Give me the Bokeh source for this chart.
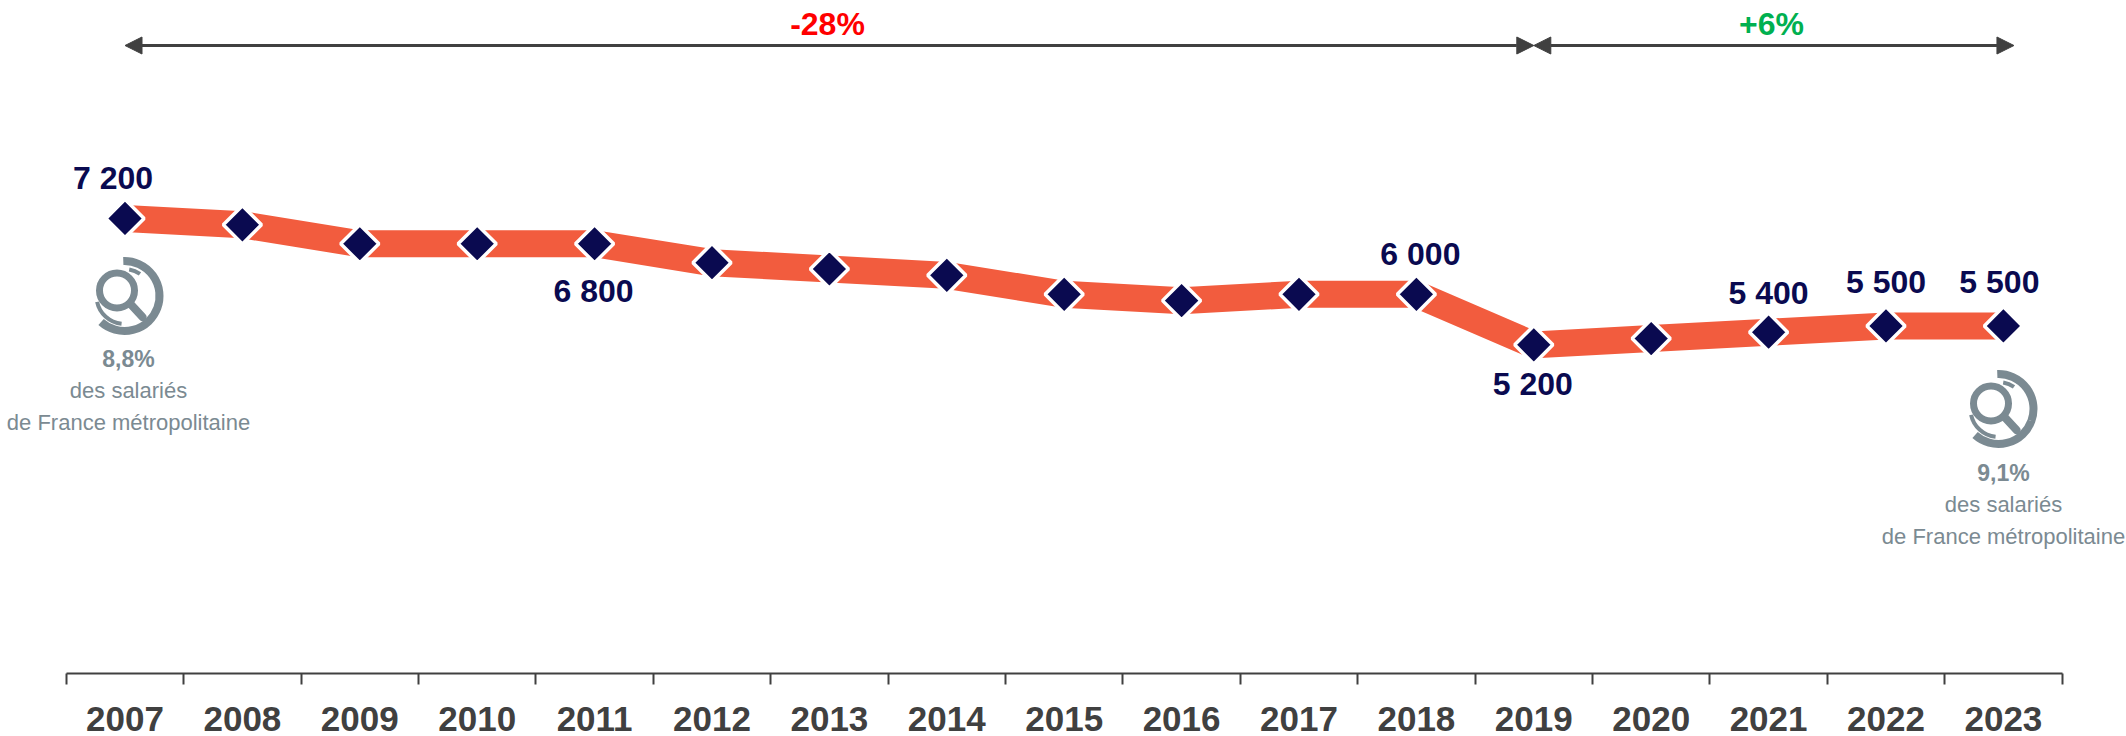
import math
from bokeh.plotting import figure
from bokeh.models import Range1d, FixedTicker, Arrow, NormalHead, ColumnDataSource
from bokeh.core.properties import value
from bokeh.embed import file_html
from bokeh.resources import INLINE

years = list(range(2007, 2024))
effectifs = [7200, 7100, 6800, 6800, 6800, 6500, 6400, 6300, 6000, 5900, 6000, 6000, 5200, 5300, 5400, 5500, 5500]

label_years = [2007, 2011, 2018, 2019, 2021, 2022, 2023]
label_values = [7200, 6800, 6000, 5200, 5400, 5500, 5500]
label_texts = ["7 200", "6 800", "6 000", "5 200", "5 400", "5 500", "5 500"]
label_dx = [-12, -1, 4, -1, 0, 0, -4]
label_dy = [-40, 47, -40, 39, -39, -44, -44]

periods = [(2007, 2019, "-28%", "#FF0000", 827), (2019, 2023.09, "+6%", "#00B050", 1771)]
shares = [("8,8%", 124, 295.5, 128, 358, 390, 422), ("9,1%", 1998, 408.5, 2003, 472, 504, 536)]
share_lines = ["des salariés", "de France métropolitaine"]

W, H = 2126, 736
FONT = value("Liberation Sans")
X0, DX = 124.5, 117.4
Y0_PX, PX_PER = 673.0, 0.0632
NAVY, ORANGE, DARK, GREY = "#0A0A50", "#F25C3E", "#404040", "#7B8A92"

x_range = Range1d(2007 - X0 / DX, 2007 + (W - X0) / DX)
y_range = Range1d(0, Y0_PX / PX_PER)

def dx(px):
    return 2007 + (px - X0) / DX

def dy(py):
    return (Y0_PX - py) / PX_PER

p = figure(width=W, height=H, x_range=x_range, y_range=y_range, output_backend="svg",
           toolbar_location=None, y_axis_location=None, min_border_left=0, min_border_right=0,
           min_border_top=0, min_border_bottom=int(H - Y0_PX))
p.outline_line_color = None
p.grid.visible = False
p.background_fill_color = "white"

ax = p.xaxis[0]
ax.ticker = FixedTicker(ticks=years, minor_ticks=[y - 0.5 for y in years] + [years[-1] + 0.5])
ax.bounds = (years[0] - 0.5, years[-1] + 0.5)
ax.major_tick_out = 0
ax.major_tick_in = 0
ax.minor_tick_out = 11
ax.minor_tick_in = 0
ax.minor_tick_line_color = DARK
ax.minor_tick_line_width = 2
ax.axis_line_color = DARK
ax.axis_line_width = 2
ax.major_label_text_font = "Liberation Sans"
ax.major_label_text_font_style = "bold"
ax.major_label_text_font_size = "35px"
ax.major_label_text_color = DARK
ax.major_label_standoff = 22
ax.major_label_overrides = {y: str(y) for y in years}

# ribbon and markers
p.line(years, effectifs, line_color=ORANGE, line_width=27, line_cap="butt", line_join="miter")
p.scatter(years, effectifs, marker="square", angle=math.pi / 4, size=27, fill_color=NAVY,
          line_color="white", line_width=3.5)

# value labels
src = ColumnDataSource(dict(x=label_years, y=label_values, t=label_texts, ox=label_dx, oy=label_dy))
p.text("x", "y", text="t", source=src, x_offset="ox", y_offset="oy", text_align="center",
       text_baseline="middle", text_color=NAVY, text_font=FONT, text_font_style="bold",
       text_font_size="32px")

# period arrows
for a, b, txt, col, mid_px in periods:
    ya = dy(45)
    p.add_layout(Arrow(x_start=a, y_start=ya, x_end=b, y_end=ya, line_color=DARK, line_width=3,
                       start=NormalHead(size=17, fill_color=DARK, line_color=DARK, line_width=1),
                       end=NormalHead(size=17, fill_color=DARK, line_color=DARK, line_width=1)))
    p.text([dx(mid_px)], [dy(23)], text=[txt], text_align="center", text_baseline="middle", text_color=col,
           text_font=FONT, text_font_style="bold", text_font_size="32px")

# share icons and captions
for pct, cx, cy, tx, y1, y2, y3 in shares:
    x, y = dx(cx), dy(cy)
    p.arc([x], [y], radius=35, radius_units="screen", start_angle=math.radians(92),
          end_angle=math.radians(228), direction="clock", line_color=GREY, line_width=8)
    p.arc([dx(cx - 7.5)], [dy(cy - 5.5)], radius=17.5, radius_units="screen", start_angle=0,
          end_angle=2 * math.pi, line_color=GREY, line_width=7)
    p.line([dx(cx + 6), dx(cx + 18)], [dy(cy + 8), dy(cy + 21)], line_color=GREY, line_width=8, line_cap="round")
    p.arc([x], [y], radius=27, radius_units="screen", start_angle=math.radians(80),
          end_angle=math.radians(55), direction="clock", line_color=GREY, line_width=4)
    p.arc([x], [y], radius=28, radius_units="screen", start_angle=math.radians(192),
          end_angle=math.radians(264), direction="anticlock", line_color=GREY, line_width=4)
    p.text([dx(tx)], [dy(y1)], text=[pct], text_align="center", text_baseline="middle", text_color=GREY,
           text_font=FONT, text_font_style="bold", text_font_size="23px")
    p.text([dx(tx)], [dy(y2)], text=[share_lines[0]], text_align="center", text_baseline="middle",
           text_color=GREY, text_font=FONT, text_font_size="22px")
    p.text([dx(tx)], [dy(y3)], text=[share_lines[1]], text_align="center", text_baseline="middle",
           text_color=GREY, text_font=FONT, text_font_size="22px")

open("out.html", "w").write(file_html(p, INLINE))
